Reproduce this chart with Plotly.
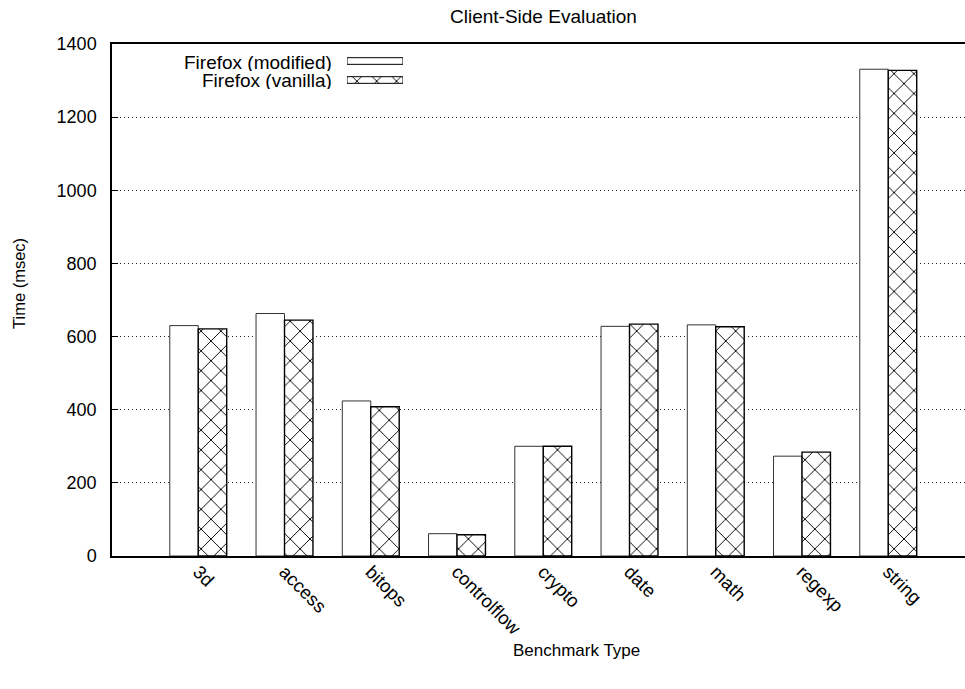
import plotly.graph_objects as go

categories = ["3d", "access", "bitops", "controlflow", "crypto", "date", "math", "regexp", "string"]
modified = [630, 663, 424, 61, 300, 628, 632, 273, 1331]
vanilla = [621, 645, 408, 58, 300, 634, 627, 284, 1328]
series_names = ["Firefox (modified)", "Firefox (vanilla)"]
y_ticks = [0, 200, 400, 600, 800, 1000, 1200, 1400]

FONT = "Liberation Sans, Arial, Helvetica, sans-serif"
W, H = 965, 689
L, R, T, B = 112, 965, 44, 556

def px_x(p):
    return (p - L) / (R - L)

def px_y(p):
    return (B - p) / (B - T)

HATCH = dict(shape="x", size=14, solidity=0.13, fgcolor="black", bgcolor="white", fgopacity=1)

fig = go.Figure()
xs = list(range(len(categories)))
fig.add_trace(go.Bar(
    x=xs, y=modified, name=series_names[0], showlegend=False,
    marker=dict(color="white", line=dict(color="#333333", width=1)),
))
fig.add_trace(go.Bar(
    x=xs, y=vanilla, name=series_names[1], showlegend=False,
    marker=dict(color="white", line=dict(color="black", width=1.4), pattern=HATCH),
))

# legend samples drawn on a small overlay axis
fig.add_trace(go.Bar(
    x=[1], y=[1], orientation="h", width=0.35, xaxis="x2", yaxis="y2", showlegend=False,
    marker=dict(color="white", line=dict(color="black", width=1)), hoverinfo="skip",
))
fig.add_trace(go.Bar(
    x=[1], y=[0], orientation="h", width=0.35, xaxis="x2", yaxis="y2", showlegend=False,
    marker=dict(color="white", line=dict(color="black", width=1), pattern=HATCH),
    hoverinfo="skip",
))

annotations = [
    dict(text="Client-Side Evaluation", x=px_x(543), y=px_y(16), xref="paper", yref="paper",
         showarrow=False, xanchor="center", yanchor="middle", font=dict(size=19, family=FONT, color="black")),
    dict(text="Benchmark Type", x=px_x(576), y=px_y(650), xref="paper", yref="paper",
         showarrow=False, xanchor="center", yanchor="middle", font=dict(size=17, family=FONT, color="black")),
    dict(text="Time (msec)", x=px_x(19), y=px_y(284), xref="paper", yref="paper", textangle=-90,
         showarrow=False, xanchor="center", yanchor="middle", font=dict(size=16.5, family=FONT, color="black")),
]
for name, ypix in zip(series_names, [62, 80]):
    annotations.append(dict(text=name, x=px_x(334), y=px_y(ypix), xref="paper", yref="paper",
                            showarrow=False, xanchor="right", yanchor="middle", height=17, valign="middle",
                            font=dict(size=19, family=FONT, color="black")))

fig.update_layout(
    width=W, height=H,
    margin=dict(l=L, r=W - R, t=T, b=H - B, pad=0),
    paper_bgcolor="white", plot_bgcolor="white",
    barmode="group", bargap=0.34, bargroupgap=0,
    font=dict(family=FONT, size=18, color="black"),
    xaxis=dict(
        range=[-1, -1 + (R - L) / 86.25], tickvals=xs, ticktext=categories, tickangle=45,
        showline=True, linecolor="black", linewidth=1.5, mirror=True,
        showgrid=False, zeroline=False, ticks="", tickfont=dict(size=18.5, family=FONT),
        ticklabelstandoff=-4,
    ),
    yaxis=dict(
        range=[0, 1400], tickvals=y_ticks, ticks="inside", ticklen=6, tickcolor="black",
        showline=True, linecolor="black", linewidth=1.5, mirror=False,
        showgrid=True, gridcolor="#222222", griddash="1px,3px", gridwidth=1, zeroline=False,
        tickfont=dict(size=18, family=FONT), ticklabelstandoff=10,
    ),
    xaxis2=dict(domain=[px_x(347), px_x(403)], range=[0, 1], anchor="y2", visible=False, fixedrange=True),
    yaxis2=dict(domain=[px_y(89.5), px_y(51.5)], range=[-0.5, 1.5], anchor="x2", visible=False, fixedrange=True),
    annotations=annotations,
)

fig.write_html("out.html")
